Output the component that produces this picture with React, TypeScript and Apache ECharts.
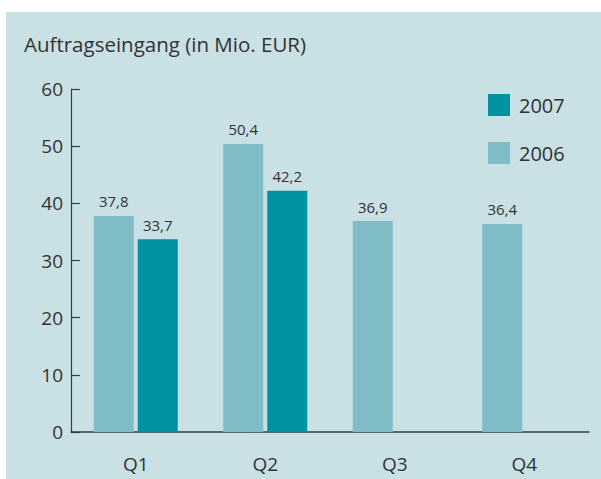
import React, { useEffect, useRef } from "react";
import * as echarts from "echarts";

const categories = ["Q1", "Q2", "Q3", "Q4"];
const values2006 = [37.8, 50.4, 36.9, 36.4];
const values2007: (number | null)[] = [33.7, 42.2, null, null];
const yTicks = { min: 0, max: 60, interval: 10 };
const title = "Auftragseingang (in Mio. EUR)";
const seriesNames = ["2006", "2007"];
const legendOrder = ["2007", "2006"];

const FONT = "'Open Sans', 'Noto Sans', sans-serif";
const TXT = "#333333";
const C2006 = "#80bcc6";
const C2007 = "#00939f";
const BG = "#c9e0e5";
const AXIS = "#3c3c3c";

export default function App() {
  const ref = useRef<HTMLDivElement>(null);
  useEffect(() => {
    if (!ref.current) return;
    const chart = echarts.init(ref.current, undefined, { renderer: "svg" });
    const fmt = (p: any) => String(p.value).replace(".", ",");
    chart.setOption({
      animation: false,
      backgroundColor: "#ffffff",
      textStyle: { fontFamily: FONT },
      graphic: [
        {
          type: "rect",
          z: -10,
          shape: { x: 6, y: 12, width: 595, height: 467 },
          style: { fill: BG },
          silent: true,
        },
        {
          type: "text",
          left: 24,
          top: 33,
          style: { text: title, fill: TXT, font: `20.5px ${FONT}` },
        },
      ],
      legend: {
        data: legendOrder,
        orient: "vertical",
        left: 483,
        top: 89,
        itemWidth: 22,
        itemHeight: 22,
        itemGap: 26,
        icon: "rect",
        textStyle: { fontSize: 20, color: TXT, fontFamily: FONT, padding: [0, 0, 0, 4] },
      },
      grid: { left: 71, right: 12, top: 89, bottom: 47, containLabel: false },
      xAxis: {
        type: "category",
        data: categories,
        axisLine: { lineStyle: { color: AXIS, width: 1.5 } },
        axisTick: { inside: true, length: 9, lineStyle: { color: AXIS, width: 1.2 } },
        axisLabel: { fontSize: 19, color: TXT, margin: 22, fontFamily: FONT },
      },
      yAxis: {
        type: "value",
        min: yTicks.min,
        max: yTicks.max,
        interval: yTicks.interval,
        splitLine: { show: false },
        axisLine: { show: true, lineStyle: { color: AXIS, width: 1.2 } },
        axisTick: { show: true, inside: true, length: 9, lineStyle: { color: AXIS, width: 1.2 } },
        axisLabel: { fontSize: 19, color: TXT, margin: 8, fontFamily: FONT },
      },
      series: [
        {
          name: seriesNames[0],
          type: "bar",
          data: values2006,
          barWidth: 40,
          barGap: "10%",
          itemStyle: { color: C2006 },
          label: { show: true, position: "top", distance: 7, formatter: fmt, fontSize: 15, color: TXT, fontFamily: FONT },
        },
        {
          name: seriesNames[1],
          type: "bar",
          data: values2007,
          barWidth: 40,
          barGap: "10%",
          itemStyle: { color: C2007 },
          label: { show: true, position: "top", distance: 7, formatter: fmt, fontSize: 15, color: TXT, fontFamily: FONT },
        },
      ],
    });
    return () => chart.dispose();
  }, []);
  return (
    <div
      ref={ref}
      style={{ position: "fixed", left: 0, top: 0, width: 601, height: 479 }}
    />
  );
}
